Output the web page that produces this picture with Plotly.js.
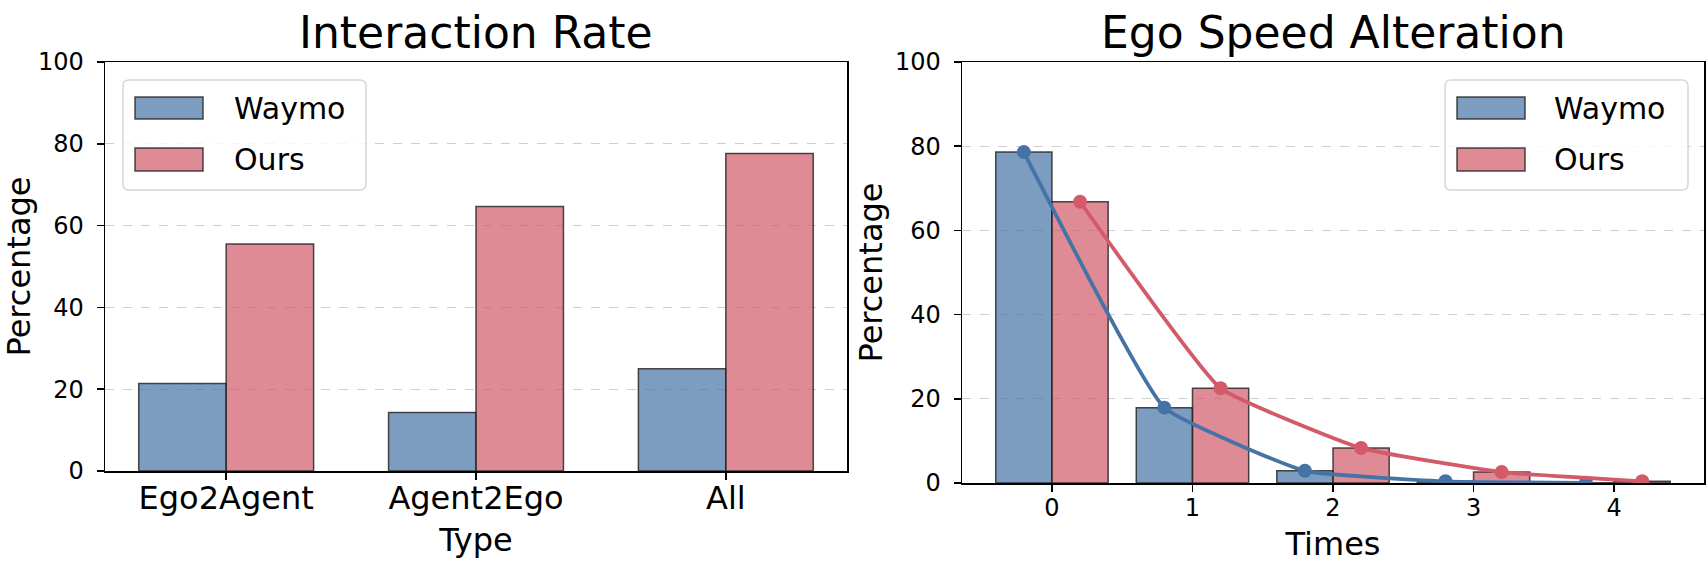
<!DOCTYPE html>
<html>
<head>
<meta charset="utf-8">
<script src="https://cdn.plot.ly/plotly-3.0.1.min.js"></script>
<style>html,body{margin:0;padding:0;background:#fff;}</style>
</head>
<body>
<div id="chart" style="width:1708px;height:566px;"></div>
<script>
// ---- data ----
const typeCategories = ['Ego2Agent', 'Agent2Ego', 'All'];
const rateWaymo = [21.4, 14.3, 25.0];
const rateOurs = [55.5, 64.7, 77.6];

const timesCategories = [0, 1, 2, 3, 4];
const speedWaymo = [78.6, 17.9, 2.9, 0.4, 0.05];
const speedOurs = [66.8, 22.5, 8.3, 2.6, 0.4];

const seriesNames = ['Waymo', 'Ours'];
const yTicks = [0, 20, 40, 60, 80, 100];

// ---- styles ----
const W = 1708, H = 566;
const FONT = 'DejaVu Sans';
const blueBase = '#4673a5', redBase = '#d25a69';
const blueFill = 'rgba(70,115,165,0.7)', redFill = 'rgba(210,90,105,0.7)';
const edge = 'rgba(30,30,30,0.8)';

const px = v => v / W;
const py = v => 1 - v / H;

const traces = [
  {type: 'bar', x: typeCategories, y: rateWaymo, name: seriesNames[0], xaxis: 'x', yaxis: 'y',
   width: 0.35, offset: -0.35, marker: {color: blueFill, line: {color: edge, width: 1.5}}, showlegend: false},
  {type: 'bar', x: typeCategories, y: rateOurs, name: seriesNames[1], xaxis: 'x', yaxis: 'y',
   width: 0.35, offset: 0, marker: {color: redFill, line: {color: edge, width: 1.5}}, showlegend: false},
  {type: 'bar', x: timesCategories, y: speedWaymo, name: seriesNames[0], xaxis: 'x2', yaxis: 'y2',
   width: 0.4, offset: -0.4, marker: {color: blueFill, line: {color: edge, width: 1.5}}, showlegend: false},
  {type: 'bar', x: timesCategories, y: speedOurs, name: seriesNames[1], xaxis: 'x2', yaxis: 'y2',
   width: 0.4, offset: 0, marker: {color: redFill, line: {color: edge, width: 1.5}}, showlegend: false},
  {type: 'scatter', mode: 'lines+markers', x: timesCategories.map(t => t - 0.2), y: speedWaymo,
   xaxis: 'x2', yaxis: 'y2', line: {color: blueBase, width: 3.8, shape: 'spline', smoothing: 0.35},
   marker: {color: blueBase, size: 14}, showlegend: false},
  {type: 'scatter', mode: 'lines+markers', x: timesCategories.map(t => t + 0.2), y: speedOurs,
   xaxis: 'x2', yaxis: 'y2', line: {color: redBase, width: 3.8, shape: 'spline', smoothing: 0.35},
   marker: {color: redBase, size: 14}, showlegend: false}
];

const axisCommon = {
  showline: true, linecolor: '#000', linewidth: 1.5, mirror: true,
  ticks: 'outside', ticklen: 7, tickwidth: 1.5, tickcolor: '#000',
  zeroline: false, automargin: false
};

function roundRect(x0, y0, x1, y1, r) {
  const X = px, Y = py;
  return `M${X(x0 + r)},${Y(y0)} L${X(x1 - r)},${Y(y0)} Q${X(x1)},${Y(y0)} ${X(x1)},${Y(y0 + r)} ` +
         `L${X(x1)},${Y(y1 - r)} Q${X(x1)},${Y(y1)} ${X(x1 - r)},${Y(y1)} ` +
         `L${X(x0 + r)},${Y(y1)} Q${X(x0)},${Y(y1)} ${X(x0)},${Y(y1 - r)} ` +
         `L${X(x0)},${Y(y0 + r)} Q${X(x0)},${Y(y0)} ${X(x0 + r)},${Y(y0)} Z`;
}

function legendShapes(boxX0, boxX1, patchX0, patchX1) {
  return [
    {type: 'path', xref: 'paper', yref: 'paper', path: roundRect(boxX0, 80, boxX1, 190, 6),
     fillcolor: 'rgba(255,255,255,0.8)', line: {color: '#d6d6d6', width: 1.5}},
    {type: 'rect', xref: 'paper', yref: 'paper', x0: px(patchX0), x1: px(patchX1), y0: py(119), y1: py(97),
     fillcolor: blueFill, line: {color: edge, width: 1.5}},
    {type: 'rect', xref: 'paper', yref: 'paper', x0: px(patchX0), x1: px(patchX1), y0: py(171), y1: py(148),
     fillcolor: redFill, line: {color: edge, width: 1.5}}
  ];
}

function legendLabels(textX) {
  return [
    {xref: 'paper', yref: 'paper', x: px(textX), y: py(108), xanchor: 'left', yanchor: 'middle',
     text: seriesNames[0], showarrow: false, font: {family: FONT, size: 30, color: '#000'}},
    {xref: 'paper', yref: 'paper', x: px(textX), y: py(159), xanchor: 'left', yanchor: 'middle',
     text: seriesNames[1], showarrow: false, font: {family: FONT, size: 30, color: '#000'}}
  ];
}

const layout = {
  width: W, height: H,
  margin: {l: 0, r: 0, t: 0, b: 0},
  paper_bgcolor: '#fff', plot_bgcolor: '#fff',
  font: {family: FONT, color: '#000'},
  barmode: 'overlay',
  showlegend: false,
  xaxis: Object.assign({}, axisCommon, {
    domain: [px(105), px(847)], anchor: 'y', type: 'category',
    range: [-0.485, 2.485], showgrid: false,
    tickfont: {family: FONT, size: 32}, ticklabelstandoff: -9,
    title: {text: 'Type', font: {family: FONT, size: 32}, standoff: 12}
  }),
  yaxis: Object.assign({}, axisCommon, {
    domain: [1 - 471 / H, 1 - 62 / H], anchor: 'x',
    range: [0, 100], tickvals: yTicks, ticktext: yTicks.map(String),
    showgrid: true, gridcolor: '#cfcfcf', griddash: 'dash', gridwidth: 1,
    tickfont: {family: FONT, size: 24}, ticklabelstandoff: 8,
    title: {text: 'Percentage', font: {family: FONT, size: 32}, standoff: 15}
  }),
  xaxis2: Object.assign({}, axisCommon, {
    domain: [px(962), px(1704)], anchor: 'y2',
    range: [-0.64, 4.64], tickvals: timesCategories, ticktext: timesCategories.map(String), showgrid: false,
    tickfont: {family: FONT, size: 24}, ticklabelstandoff: -4,
    title: {text: 'Times', font: {family: FONT, size: 32}, standoff: 11}
  }),
  yaxis2: Object.assign({}, axisCommon, {
    domain: [1 - 483 / H, 1 - 62 / H], anchor: 'x2',
    range: [0, 100], tickvals: yTicks, ticktext: yTicks.map(String),
    showgrid: true, gridcolor: '#cfcfcf', griddash: 'dash', gridwidth: 1,
    tickfont: {family: FONT, size: 24}, ticklabelstandoff: 8,
    title: {text: 'Percentage', font: {family: FONT, size: 32}, standoff: 2}
  }),
  shapes: [].concat(legendShapes(123, 366, 135, 203), legendShapes(1445, 1688, 1457, 1525)),
  annotations: [
    {xref: 'paper', yref: 'paper', x: px(476), y: py(33), xanchor: 'center', yanchor: 'middle',
     text: 'Interaction Rate', showarrow: false, font: {family: FONT, size: 44, color: '#000'}},
    {xref: 'paper', yref: 'paper', x: px(1333), y: py(33), xanchor: 'center', yanchor: 'middle',
     text: 'Ego Speed Alteration', showarrow: false, font: {family: FONT, size: 44, color: '#000'}}
  ].concat(legendLabels(232), legendLabels(1552))
};

Plotly.newPlot('chart', traces, layout, {staticPlot: true, displayModeBar: false});
</script>
</body>
</html>
